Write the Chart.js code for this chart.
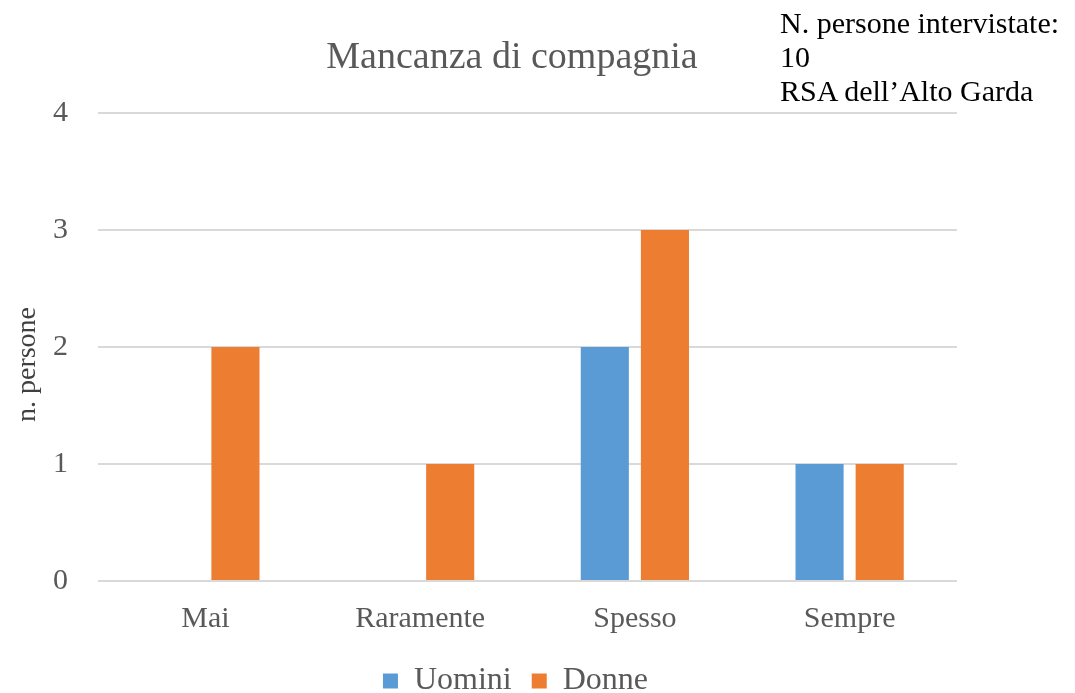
<!DOCTYPE html>
<html>
<head>
<meta charset="utf-8">
<script src="https://cdn.jsdelivr.net/npm/chart.js@4/dist/chart.umd.min.js"></script>
<style>
  html, body { margin: 0; padding: 0; background: #fff; }
  #wrap { position: relative; width: 1075px; height: 693px; overflow: hidden; }
  #note {
    position: absolute; left: 780px; top: 6px;
    font-family: 'Liberation Serif', 'Times New Roman', serif;
    font-size: 30px; line-height: 34px; color: #000;
  }
</style>
</head>
<body>
<div id="wrap">
  <canvas id="canvas" width="1075" height="693"></canvas>
  <div id="note">N. persone intervistate:<br>10<br>RSA dell’Alto Garda</div>
</div>
<script>
var categories = ['Mai', 'Raramente', 'Spesso', 'Sempre'];
var uomini = [0, 0, 2, 1];
var donne = [2, 1, 3, 1];
var yTicks = [0, 1, 2, 3, 4];
var chartTitle = 'Mancanza di compagnia';

var serif = "'Liberation Serif', 'Times New Roman', serif";
var grey = '#595959';

// title drawn by hand so it can sit a bit left of centre like the original
var titlePlugin = {
	id: 'manualTitle',
	afterDraw: function(chart) {
		var ctx = chart.ctx;
		ctx.save();
		ctx.font = '38px ' + serif;
		ctx.fillStyle = grey;
		ctx.textAlign = 'center';
		ctx.textBaseline = 'alphabetic';
		ctx.fillText(chartTitle, 512, 68);
		ctx.restore();
	}
};

var ctx = document.getElementById('canvas').getContext('2d');
window.myBar = new Chart(ctx, {
	type: 'bar',
	data: {
		labels: categories,
		datasets: [{
			label: 'Uomini',
			data: uomini,
			backgroundColor: '#5B9BD5',
			categoryPercentage: 0.56,
			barPercentage: 0.8
		}, {
			label: 'Donne',
			data: donne,
			backgroundColor: '#ED7D31',
			categoryPercentage: 0.56,
			barPercentage: 0.8
		}]
	},
	plugins: [titlePlugin],
	options: {
		responsive: false,
		animation: false,
		layout: { padding: { left: 50, right: 94, top: 113, bottom: -14 } },
		plugins: {
			title: { display: false },
			tooltip: { enabled: false },
			legend: {
				position: 'bottom',
				labels: {
					font: { family: serif, size: 32 },
					color: grey,
					boxWidth: 15,
					boxHeight: 15,
					padding: 20
				}
			}
		},
		scales: {
			x: {
				afterFit: function(s) { s.height = 64; },
				grid: { display: false },
				border: { display: false },
				ticks: { font: { family: serif, size: 30 }, color: grey, padding: 12 }
			},
			y: {
				min: 0,
				max: 4,
				afterFit: function(s) { s.width = 48; },
				afterBuildTicks: function(s) { s.ticks = yTicks.map(function(v) { return { value: v }; }); },
				grid: { color: '#D9D9D9', lineWidth: 2, drawTicks: false },
				border: { display: false },
				ticks: { font: { family: serif, size: 30 }, color: grey, padding: 30 },
				title: {
					display: true,
					text: 'n. persone     ',
					font: { family: serif, size: 28 },
					color: '#404040',
					padding: { top: -39, bottom: 0 }
				}
			},
			// empty strip on the right, only to keep the plot where it is in the original
			side: {
				position: 'right',
				display: true,
				afterFit: function(s) { s.width = 24; },
				grid: { display: false },
				border: { display: false },
				ticks: { display: false }
			}
		}
	}
});
</script>
</body>
</html>
